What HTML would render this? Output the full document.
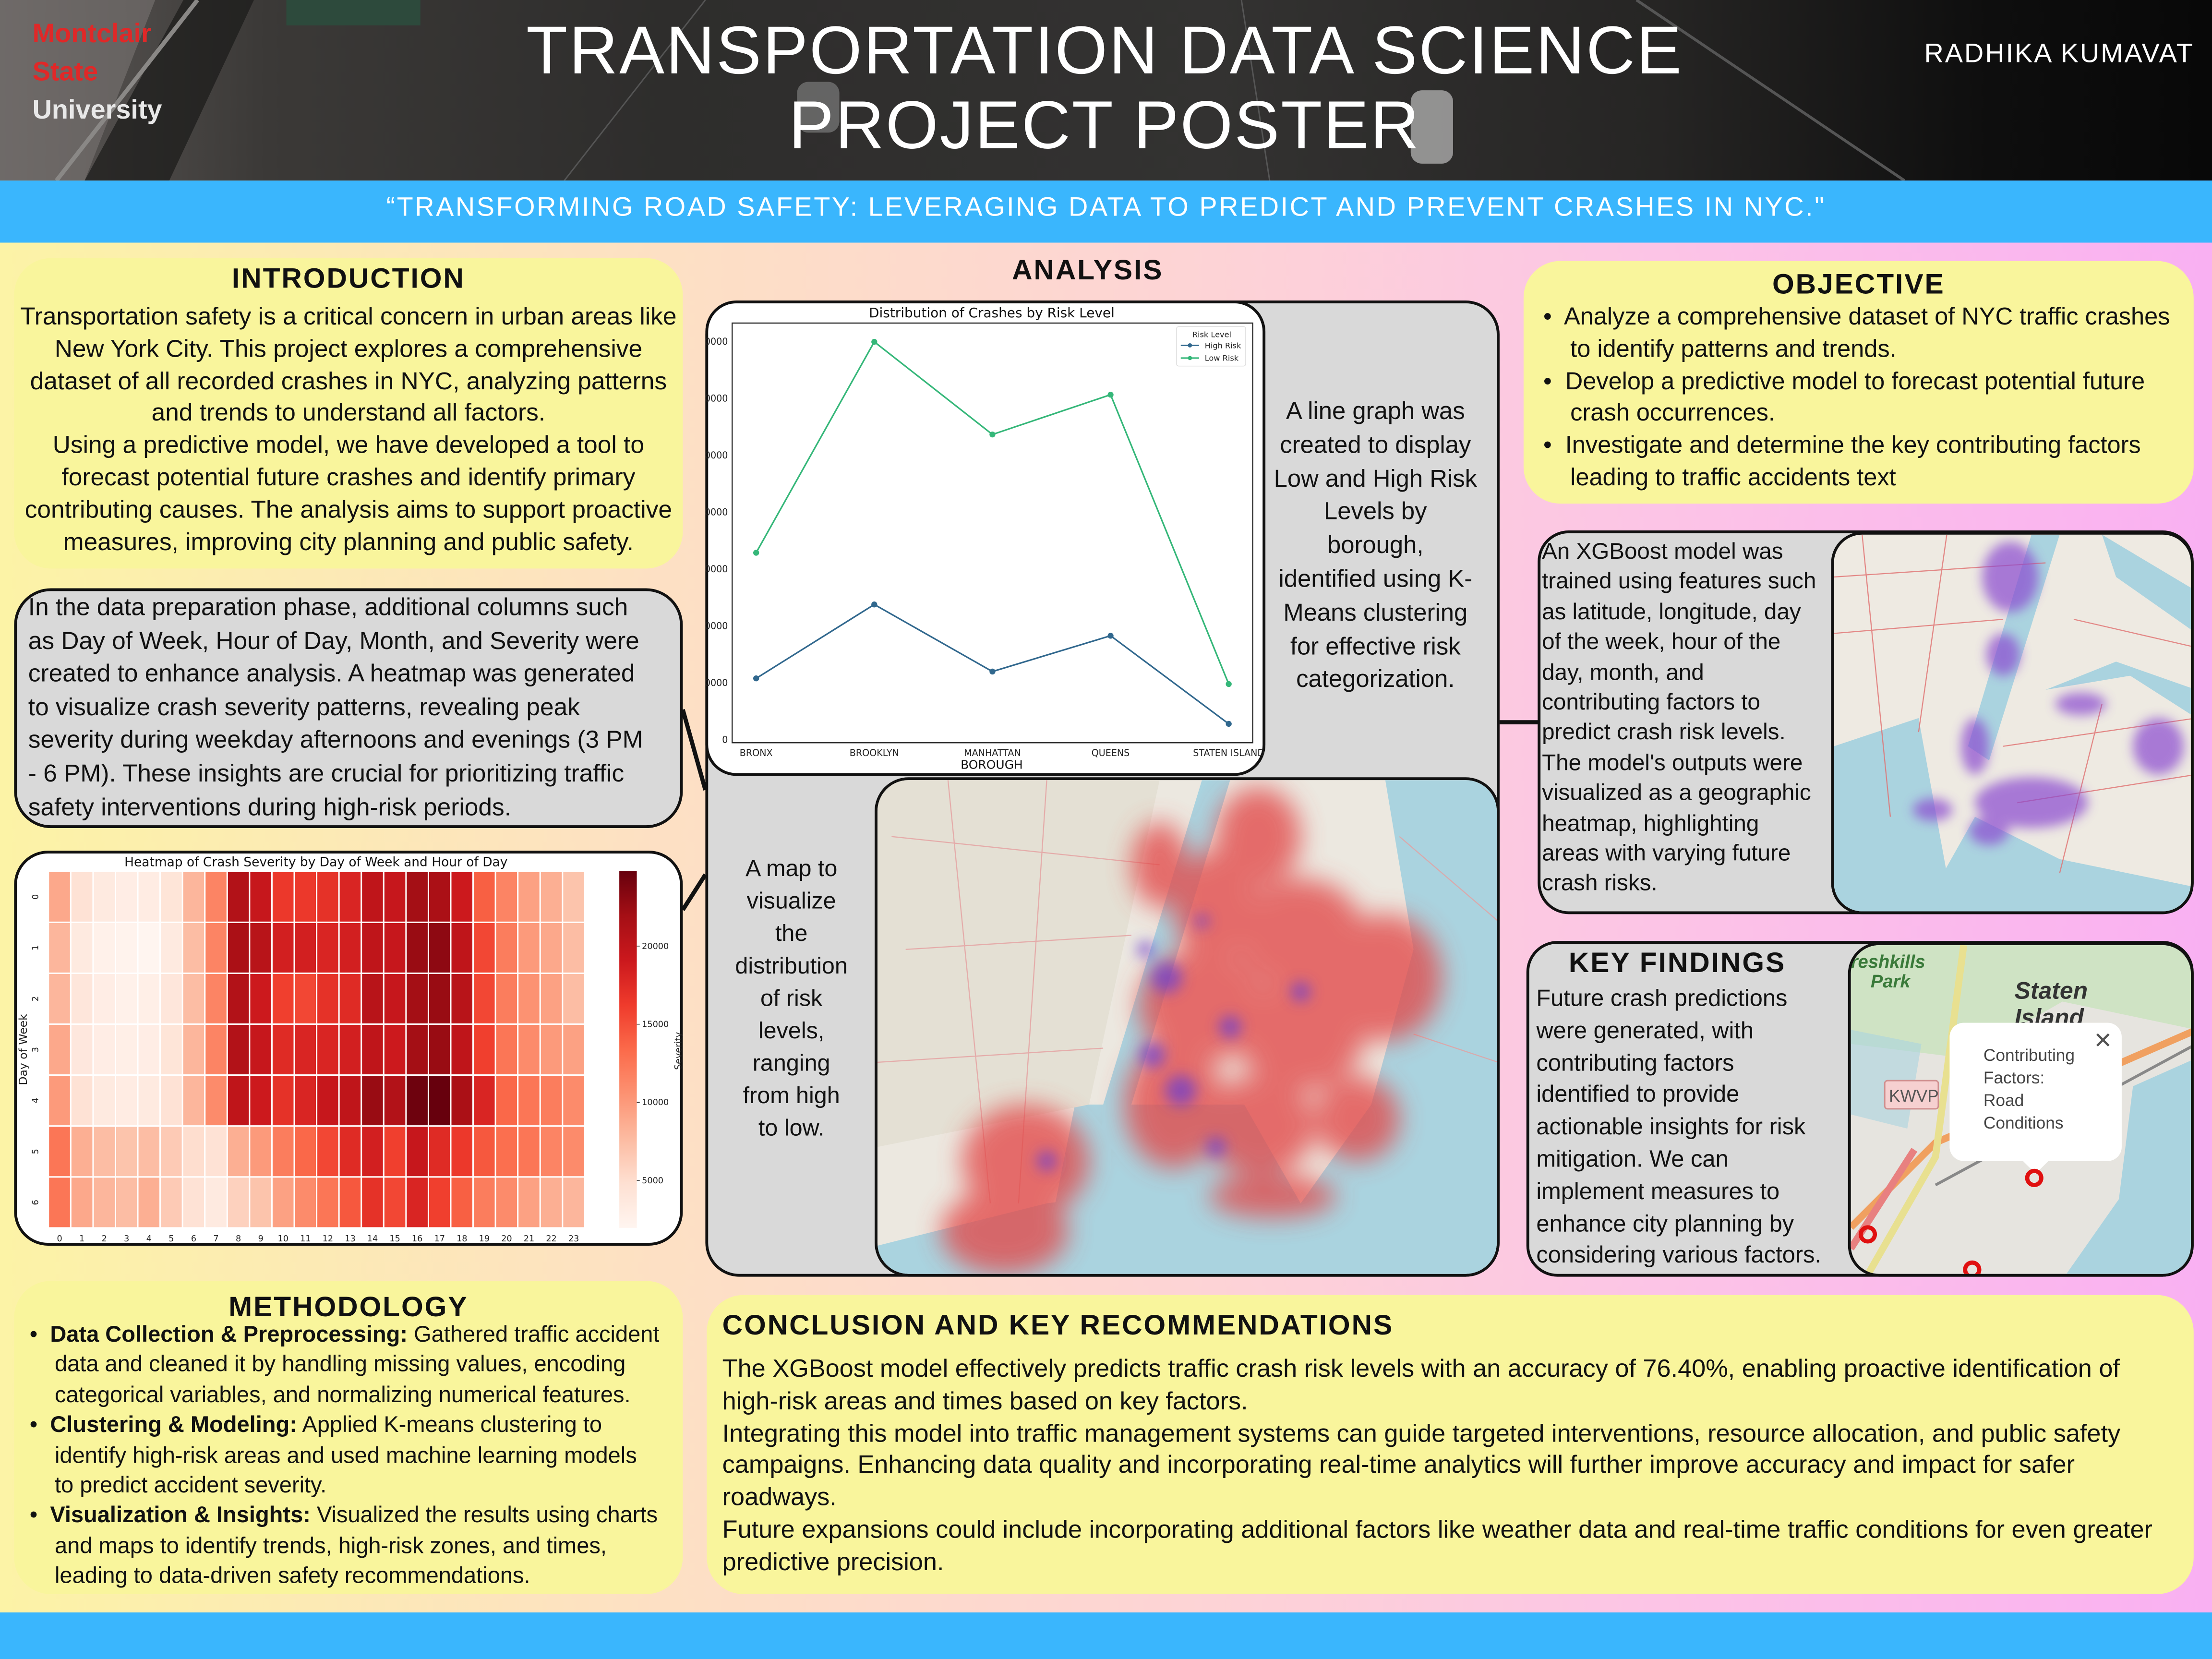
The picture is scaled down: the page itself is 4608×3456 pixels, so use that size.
<!DOCTYPE html>
<html><head><meta charset="utf-8">
<style>
*{margin:0;padding:0;box-sizing:border-box}
html,body{width:4608px;height:3456px;overflow:hidden;background:#fff}
#poster{position:absolute;left:0;top:0;width:1568px;height:1176px;transform:scale(2.938776);transform-origin:0 0;font-family:"Liberation Sans","DejaVu Sans",sans-serif;overflow:hidden;
background:linear-gradient(90deg,#fcf3a6 0%,#fde0c4 30%,#fdd3d6 55%,#fcc4e6 75%,#f9b0f2 100%)}
.abs{position:absolute}
.box{position:absolute;border-radius:26px}
.yel{background:#f9f59c}
.gray{background:#d9d9d9;border:2px solid #111}
.t{position:absolute;white-space:nowrap;color:#111}
.h{font-weight:bold;letter-spacing:1px;color:#111;position:absolute;white-space:nowrap}
.c{text-align:center}
</style></head><body>
<div id="poster">

<!-- header -->
<div class="abs" style="left:0;top:0;width:1568px;height:128px;background:linear-gradient(90deg,#5e5a58 0%,#3b3937 12%,#2e2d2c 30%,#333231 55%,#262524 75%,#0e0e0e 90%,#080808 100%)">
 <svg width="1568" height="128" class="abs" style="left:0;top:0">
  <polygon points="0,0 110,0 60,128 0,128" fill="#7a7573" opacity="0.6"/>
  <polygon points="60,128 130,0 180,0 120,128" fill="#1a1a18" opacity="0.7"/>
  <line x1="40" y1="128" x2="140" y2="0" stroke="#8a8886" stroke-width="3"/>
  <line x1="1350" y1="128" x2="1160" y2="0" stroke="#555" stroke-width="2"/>
  <line x1="400" y1="128" x2="500" y2="0" stroke="#555" stroke-width="1"/>
  <line x1="900" y1="128" x2="880" y2="0" stroke="#555" stroke-width="1"/>
  <rect x="1000" y="64" width="30" height="52" rx="8" fill="#bdbdbd" opacity="0.7"/>
  <rect x="565" y="58" width="30" height="36" rx="8" fill="#9a9a9a" opacity="0.5"/>
  <rect x="203" y="0" width="95" height="18" fill="#2d4a3c"/>
 </svg>
 <div class="t" style="left:23px;top:11px;font-size:19px;line-height:27px;font-weight:bold;color:#e02828">Montclair<br>State<br><span style="color:#e8e8e8">University</span></div>
 <div class="t c" style="left:300px;width:966px;top:10px;font-size:48px;line-height:53px;color:#fff;letter-spacing:1px">TRANSPORTATION DATA SCIENCE<br>PROJECT POSTER</div>
 <div class="t" style="left:1364px;top:28px;font-size:19px;color:#fff;letter-spacing:1px">RADHIKA KUMAVAT</div>
</div>
<div class="abs" style="left:0;top:128px;width:1568px;height:44px;background:#3ab6fd">
 <div class="t c" style="left:0;width:1568px;top:9px;font-size:19px;color:#fff;letter-spacing:1.2px">“TRANSFORMING ROAD SAFETY: LEVERAGING DATA TO PREDICT AND PREVENT CRASHES IN NYC."</div>
</div>
<div class="abs" style="left:0;top:1143px;width:1568px;height:33px;background:#3ab6fd"></div>

<!-- introduction -->
<div class="box yel" style="left:10px;top:183px;width:474px;height:220px"></div>
<div class="h" style="left:10px;width:474px;text-align:center;top:187px;font-size:20px">INTRODUCTION</div>
<div class="t c" style="left:10px;width:474px;top:213px;font-size:17.5px;line-height:22.8px">Transportation safety is a critical concern in urban areas like<br>New York City. This project explores a comprehensive<br>dataset of all recorded crashes in NYC, analyzing patterns<br>and trends to understand all factors.<br>Using a predictive model, we have developed a tool to<br>forecast potential future crashes and identify primary<br>contributing causes. The analysis aims to support proactive<br>measures, improving city planning and public safety.</div>

<!-- data prep -->
<div class="box gray" style="left:10px;top:417px;width:474px;height:170px"></div>
<div class="t" style="left:20px;top:419px;font-size:17.5px;line-height:23.6px">In the data preparation phase, additional columns such<br>as Day of Week, Hour of Day, Month, and Severity were<br>created to enhance analysis. A heatmap was generated<br>to visualize crash severity patterns, revealing peak<br>severity during weekday afternoons and evenings (3 PM<br>- 6 PM). These insights are crucial for prioritizing traffic<br>safety interventions during high-risk periods.</div>

<!-- connectors -->
<svg class="abs" width="1568" height="1176" style="left:0;top:0">
 <line x1="484" y1="503" x2="500" y2="560" stroke="#111" stroke-width="3"/>
 <line x1="484" y1="645" x2="500" y2="620" stroke="#111" stroke-width="3"/>
 <line x1="1063" y1="512" x2="1092" y2="512" stroke="#111" stroke-width="3"/>
</svg>

<!-- heatmap -->
<div class="box" style="left:10px;top:603px;width:474px;height:280px;background:#fff;border:2px solid #111;border-radius:24px"></div>
<svg id="heat" class="abs" width="474" height="280" style="left:10px;top:603px"></svg>

<!-- methodology -->
<div class="box yel" style="left:10px;top:908px;width:474px;height:222px"></div>
<div class="h" style="left:10px;width:474px;text-align:center;top:916px;font-size:20px">METHODOLOGY</div>
<div class="t" style="left:21px;top:936px;font-size:16px;line-height:21.4px">•&nbsp; <b>Data Collection &amp; Preprocessing:</b> Gathered traffic accident<br>&nbsp;&nbsp;&nbsp;&nbsp;data and cleaned it by handling missing values, encoding<br>&nbsp;&nbsp;&nbsp;&nbsp;categorical variables, and normalizing numerical features.<br>•&nbsp; <b>Clustering &amp; Modeling:</b> Applied K-means clustering to<br>&nbsp;&nbsp;&nbsp;&nbsp;identify high-risk areas and used machine learning models<br>&nbsp;&nbsp;&nbsp;&nbsp;to predict accident severity.<br>•&nbsp; <b>Visualization &amp; Insights:</b> Visualized the results using charts<br>&nbsp;&nbsp;&nbsp;&nbsp;and maps to identify trends, high-risk zones, and times,<br>&nbsp;&nbsp;&nbsp;&nbsp;leading to data-driven safety recommendations.</div>

<!-- analysis -->
<div class="h" style="left:671px;width:200px;text-align:center;top:181px;font-size:20px">ANALYSIS</div>
<div class="box gray" style="left:500px;top:213px;width:563px;height:692px;border-radius:24px"></div>
<div class="box" style="left:500px;top:213px;width:397px;height:337px;background:#fff;border:2px solid #111;border-radius:22px"></div>
<svg id="line" class="abs" width="397" height="337" style="left:500px;top:213px"></svg>
<div class="t c" style="left:900px;width:150px;top:280px;font-size:17.3px;line-height:23.8px">A line graph was<br>created to display<br>Low and High Risk<br>Levels by<br>borough,<br>identified using K-<br>Means clustering<br>for effective risk<br>categorization.</div>
<div class="t c" style="left:508px;width:106px;top:605px;font-size:16.5px;line-height:23px">A map to<br>visualize<br>the<br>distribution<br>of risk<br>levels,<br>ranging<br>from high<br>to low.</div>

<!-- big map -->
<div class="abs" style="left:620px;top:551px;width:443px;height:354px;border:2px solid #111;border-radius:24px;overflow:hidden;background:#ece8e0">
 <svg width="443" height="354">
  <defs><filter id="bl" x="-30%" y="-30%" width="160%" height="160%"><feGaussianBlur stdDeviation="9"/></filter>
  <filter id="bl2"><feGaussianBlur stdDeviation="5"/></filter></defs>
  <path d="M360,0 L443,0 L443,354 L0,354 L0,330 L120,300 L200,290 L300,300 L350,230 L380,120 Z" fill="#aad3df"/>
  <path d="M230,0 L250,0 L180,230 L160,230 Z" fill="#aad3df"/>
  <path d="M140,230 L260,230 L300,300 L120,330 Z" fill="#aad3df"/>
  <path d="M0,0 L200,0 L150,230 L0,260 Z" fill="#e4e0d4"/>
  <g stroke="#e4a0a0" stroke-width="0.8" fill="none" opacity="0.8">
   <path d="M10,40 L200,60"/><path d="M20,120 L180,110"/><path d="M50,0 L80,300"/><path d="M120,0 L100,300"/><path d="M0,200 L160,190"/><path d="M370,40 L440,100"/><path d="M380,180 L440,200"/>
  </g>
  <g filter="url(#bl)" opacity="0.78" fill="#e24a4a">
   <ellipse cx="270" cy="40" rx="30" ry="35"/>
   <ellipse cx="240" cy="90" rx="30" ry="40"/>
   <ellipse cx="300" cy="110" rx="45" ry="40"/>
   <ellipse cx="360" cy="140" rx="40" ry="45"/>
   <ellipse cx="230" cy="160" rx="45" ry="40"/>
   <ellipse cx="300" cy="180" rx="45" ry="40"/>
   <ellipse cx="210" cy="230" rx="35" ry="45"/>
   <ellipse cx="270" cy="245" rx="40" ry="35"/>
   <ellipse cx="340" cy="240" rx="30" ry="30"/>
   <ellipse cx="280" cy="295" rx="45" ry="15"/>
   <ellipse cx="105" cy="270" rx="45" ry="40"/>
   <ellipse cx="90" cy="320" rx="45" ry="30"/>
   <ellipse cx="200" cy="60" rx="20" ry="30"/>
  </g>
  <g filter="url(#bl2)" opacity="0.7" fill="#6a3cd0">
   <circle cx="205" cy="140" r="11"/><circle cx="195" cy="195" r="9"/><circle cx="215" cy="220" r="11"/><circle cx="250" cy="175" r="8"/><circle cx="240" cy="260" r="7"/><circle cx="300" cy="150" r="7"/><circle cx="190" cy="120" r="6"/><circle cx="120" cy="270" r="7"/><circle cx="230" cy="100" r="5"/>
  </g>
 </svg>
</div>

<!-- objective -->
<div class="box yel" style="left:1080px;top:185px;width:475px;height:172px"></div>
<div class="h" style="left:1080px;width:475px;text-align:center;top:191px;font-size:20px">OBJECTIVE</div>
<div class="t" style="left:1094px;top:213px;font-size:17.2px;line-height:22.8px">•&nbsp; Analyze a comprehensive dataset of NYC traffic crashes<br>&nbsp;&nbsp;&nbsp;&nbsp;to identify patterns and trends.<br>•&nbsp; Develop a predictive model to forecast potential future<br>&nbsp;&nbsp;&nbsp;&nbsp;crash occurrences.<br>•&nbsp; Investigate and determine the key contributing factors<br>&nbsp;&nbsp;&nbsp;&nbsp;leading to traffic accidents text</div>

<!-- xgboost -->
<div class="box gray" style="left:1090px;top:376px;width:465px;height:272px;border-radius:22px"></div>
<div class="t" style="left:1093px;top:381px;font-size:16.2px;line-height:21.4px">An XGBoost model was<br>trained using features such<br>as latitude, longitude, day<br>of the week, hour of the<br>day, month, and<br>contributing factors to<br>predict crash risk levels.<br>The model's outputs were<br>visualized as a geographic<br>heatmap, highlighting<br>areas with varying future<br>crash risks.</div>
<div class="abs" style="left:1298px;top:377px;width:257px;height:271px;border:2px solid #111;border-radius:22px;overflow:hidden;background:#eeeae2">
 <svg width="257" height="271">
  <defs><filter id="bl3"><feGaussianBlur stdDeviation="4"/></filter></defs>
  <path d="M0,150 L60,130 L80,240 L60,271 L0,271 Z" fill="#aad3df"/>
  <path d="M60,271 L100,200 L160,230 L257,250 L257,271 Z" fill="#aad3df"/>
  <path d="M140,0 L160,0 L110,160 L95,150 Z" fill="#aad3df"/>
  <path d="M150,110 L210,100 L257,130 L257,110 L200,90 Z" fill="#aad3df"/>
  <path d="M190,0 L257,40 L257,70 L200,30 Z" fill="#aad3df"/>
  <g stroke="#e07070" stroke-width="0.8" fill="none" opacity="0.8">
   <path d="M0,30 L150,20"/><path d="M0,70 L120,60"/><path d="M20,0 L40,200"/><path d="M80,0 L60,140"/><path d="M120,150 L257,130"/><path d="M130,190 L257,170"/><path d="M170,60 L257,80"/><path d="M190,120 L160,240"/>
  </g>
  <g filter="url(#bl3)" fill="#8a4ad0" opacity="0.7">
   <ellipse cx="125" cy="30" rx="20" ry="25"/><ellipse cx="120" cy="85" rx="12" ry="15"/><ellipse cx="175" cy="120" rx="18" ry="8"/><ellipse cx="100" cy="150" rx="10" ry="20"/><ellipse cx="140" cy="190" rx="40" ry="18"/><ellipse cx="230" cy="150" rx="18" ry="20"/><ellipse cx="70" cy="195" rx="14" ry="8"/><ellipse cx="110" cy="210" rx="14" ry="10"/>
  </g>
 </svg>
</div>

<!-- key findings -->
<div class="box gray" style="left:1082px;top:667px;width:473px;height:238px;border-radius:22px"></div>
<div class="h" style="left:1112px;top:672px;font-size:20px">KEY FINDINGS</div>
<div class="t" style="left:1089px;top:697px;font-size:16.6px;line-height:22.8px">Future crash predictions<br>were generated, with<br>contributing factors<br>identified to provide<br>actionable insights for risk<br>mitigation. We can<br>implement measures to<br>enhance city planning by<br>considering various factors.</div>
<div class="abs" style="left:1310px;top:668px;width:245px;height:237px;border:2px solid #111;border-radius:22px;overflow:hidden;background:#e6e4df">
 <svg width="245" height="237">
  <path d="M0,0 L245,0 L245,60 L150,40 L80,80 L0,70 Z" fill="#cfe3c4"/>
  <path d="M200,100 L245,80 L245,237 L150,237 L190,180 Z" fill="#aad3df"/>
  <path d="M0,60 L50,70 L40,130 L0,120 Z" fill="#aad3df" opacity="0.6"/>
  <path d="M0,200 L60,140 L130,110 L245,60" stroke="#f0a060" stroke-width="5" fill="none"/>
  <path d="M10,237 L60,150 L80,0" stroke="#e8e090" stroke-width="5" fill="none"/>
  <path d="M0,215 L45,145" stroke="#e88080" stroke-width="5" fill="none"/>
  <path d="M60,170 L245,70" stroke="#888" stroke-width="2" fill="none"/>
  <text x="0" y="16" font-size="13" font-style="italic" font-weight="bold" fill="#3a7a3a" font-family="Liberation Sans, sans-serif">reshkills</text>
  <text x="14" y="30" font-size="13" font-style="italic" font-weight="bold" fill="#3a7a3a" font-family="Liberation Sans, sans-serif">Park</text>
  <text x="116" y="38" font-size="17" font-style="italic" font-weight="bold" fill="#333" font-family="Liberation Sans, sans-serif">Staten</text>
  <text x="116" y="57" font-size="17" font-style="italic" font-weight="bold" fill="#333" font-family="Liberation Sans, sans-serif">Island</text>
  <rect x="24" y="96" width="38" height="20" rx="2" fill="#f6d0d0" stroke="#d09090"/>
  <text x="27" y="111" font-size="12" fill="#555" font-family="Liberation Sans, sans-serif">KWVP</text>
  <rect x="70" y="55" width="122" height="98" rx="10" fill="#fff"/>
  <polygon points="122,153 140,153 131,162" fill="#fff"/>
  <text x="94" y="82" font-size="12" fill="#444" font-family="Liberation Sans, sans-serif">Contributing</text>
  <text x="94" y="98" font-size="12" fill="#444" font-family="Liberation Sans, sans-serif">Factors:</text>
  <text x="94" y="114" font-size="12" fill="#444" font-family="Liberation Sans, sans-serif">Road</text>
  <text x="94" y="130" font-size="12" fill="#444" font-family="Liberation Sans, sans-serif">Conditions</text>
  <text x="172" y="73" font-size="16" fill="#555" font-family="Liberation Sans, sans-serif">✕</text>
  <g fill="none" stroke="#e01010" stroke-width="3"><circle cx="130" cy="165" r="5"/><circle cx="12" cy="205" r="5"/><circle cx="86" cy="230" r="5"/></g>
 </svg>
</div>

<!-- conclusion -->
<div class="box yel" style="left:501px;top:918px;width:1054px;height:212px"></div>
<div class="h" style="left:512px;top:929px;font-size:20px">CONCLUSION AND KEY RECOMMENDATIONS</div>
<div class="t" style="left:512px;top:959px;font-size:17.8px;line-height:22.8px">The XGBoost model effectively predicts traffic crash risk levels with an accuracy of 76.40%, enabling proactive identification of<br>high-risk areas and times based on key factors.<br>Integrating this model into traffic management systems can guide targeted interventions, resource allocation, and public safety<br>campaigns. Enhancing data quality and incorporating real-time analytics will further improve accuracy and impact for safer<br>roadways.<br>Future expansions could include incorporating additional factors like weather data and real-time traffic conditions for even greater<br>predictive precision.</div>
</div>

<script>
// ---------- line chart data ----------
const boroughs = ["BRONX","BROOKLYN","MANHATTAN","QUEENS","STATEN ISLAND"];
const highRisk = [10700, 23700, 11900, 18200, 2700];
const lowRisk = [32800, 69900, 53600, 60600, 9700];
const lineYTicks = [0, 10000, 20000, 30000, 40000, 50000, 60000, 70000];
const lineYMax = 73200;

// ---------- heatmap data ----------
const heatDays = [0,1,2,3,4,5,6];
const heatHours = [0,1,2,3,4,5,6,7,8,9,10,11,12,13,14,15,16,17,18,19,20,21,22,23];
const sevRow0 = [9000,4500,3500,3000,3200,4200,8000,11500,21000,19500,16500,16500,17000,18000,20000,19500,22000,21500,19000,14000,11500,9500,8500,7000];
const sevRow1 = [8000,3500,2500,2200,2000,3500,7500,11500,21500,20500,18500,18500,18000,18500,20000,19500,22500,23000,20000,15500,12000,10000,9000,7500];
const sevRow2 = [8000,4000,3000,2500,2800,4000,7500,11500,21000,19000,16000,15500,17000,17500,20500,19500,22000,22500,20500,15500,12000,10500,9500,7500];
const sevRow3 = [9000,3800,3000,2800,3000,4200,8000,11500,21000,19500,17500,18000,18000,18500,20000,19000,22000,22500,20000,16000,12500,11000,10000,9500];
const sevRow4 = [10000,4500,3500,3200,3500,4500,8000,11000,20000,19000,17000,18000,19500,20000,22500,21000,24500,24800,21500,18000,13500,12500,12000,11000];
const sevRow5 = [12500,8500,7500,7000,7500,6500,5000,4500,8500,10000,12000,13500,15500,17500,18500,16000,19500,17500,16500,14500,13000,12500,11500,11000];
const sevRow6 = [12500,9000,8000,7500,8500,6500,4500,3500,6000,7000,9500,11000,12500,14500,17000,15500,18000,16000,14000,12000,11000,9500,8500,8000];
const severity = [sevRow0,sevRow1,sevRow2,sevRow3,sevRow4,sevRow5,sevRow6];
const cbTicks = [5000, 10000, 15000, 20000];
const sevMin = 1960, sevMax = 24800;

const NS = "http://www.w3.org/2000/svg";
function mk(parent, tag, attrs, text){
  const e = document.createElementNS(NS, tag);
  for (const k in attrs) e.setAttribute(k, attrs[k]);
  if (text !== undefined) e.textContent = text;
  parent.appendChild(e);
  return e;
}

// ---- line chart ----
(function(){
  const svg = document.getElementById('line');
  const L=19, R=388, T=16, B=313.5;
  const x = i => 36 + i*(371-36)/(boroughs.length-1);
  const y = v => B - 2.5 - (v/lineYMax)*(B-2.5-T);
  let t = mk(svg,'text',{x:203,y:12,'font-size':9.5,'text-anchor':'middle',fill:'#111','font-family':'DejaVu Sans, sans-serif'},'Distribution of Crashes by Risk Level');
  
  
  let ax = mk(svg,'rect',{x:L,y:T,width:R-L,height:B-T,fill:'none',stroke:'#222','stroke-width':0.8});
  
  
  lineYTicks.forEach(v=>{
    const tk = mk(svg,'text',{x:16,y:y(v)+2.5,'font-size':6.5,'text-anchor':'end',fill:'#222','font-family':'DejaVu Sans, sans-serif'},String(v));
    
    
  });
  boroughs.forEach((b,i)=>{
    const tk = mk(svg,'text',{x:x(i),y:323,'font-size':6.5,'text-anchor':'middle',fill:'#222','font-family':'DejaVu Sans, sans-serif'},b);
    
    
  });
  t = mk(svg,'text',{x:203,y:332,'font-size':8.5,'text-anchor':'middle',fill:'#111','font-family':'DejaVu Sans, sans-serif'},'BOROUGH');
  
  
  [[highRisk,'#31688e','high-risk'],[lowRisk,'#35b779','low-risk']].forEach(([arr,col,nm])=>{
    const pl = mk(svg,'polyline',{points:arr.map((v,i)=>x(i)+','+y(v)).join(' '),fill:'none',stroke:col,'stroke-width':1.1});
    
    
    arr.forEach((v,i)=>{
      const c = mk(svg,'circle',{cx:x(i),cy:y(v),r:2.1,fill:col});
      
      
    });
  });
  const lg = mk(svg,'g',{});
  
  
  mk(lg,'rect',{x:334,y:18.5,width:49,height:28,fill:'#fff',stroke:'#ddd','stroke-width':0.5,rx:1.5});
  mk(lg,'text',{x:359,y:26,'font-size':5.5,'text-anchor':'middle',fill:'#222','font-family':'DejaVu Sans, sans-serif'},'Risk Level');
  [['High Risk','#31688e',33.8],['Low Risk','#35b779',42.8]].forEach(([n,c,yy])=>{
    mk(lg,'line',{x1:337,y1:yy-2,x2:350,y2:yy-2,stroke:c,'stroke-width':1});
    mk(lg,'circle',{cx:343.5,cy:yy-2,r:1.5,fill:c});
    mk(lg,'text',{x:354,y:yy,'font-size':5.5,fill:'#222','font-family':'DejaVu Sans, sans-serif'},n);
  });
})();

// ---- heatmap ----
(function(){
  const svg = document.getElementById('heat');
  const stops = [[255,245,240],[254,224,210],[252,187,161],[252,146,114],[251,106,74],[239,59,44],[203,24,29],[165,15,21],[103,0,13]];
  function cmap(v){
    let f = Math.max(0,Math.min(1,(v-sevMin)/(sevMax-sevMin)))*(stops.length-1);
    const i = Math.min(stops.length-2, Math.floor(f)); f -= i;
    const a=stops[i], b=stops[i+1];
    return 'rgb('+a.map((c,k)=>Math.round(c+(b[k]-c)*f)).join(',')+')';
  }
  const X0=24.3, X1=404.6, Y0=14.7, Y1=267.4;
  const cw=(X1-X0)/heatHours.length, ch=(Y1-Y0)/heatDays.length;
  const cx = h => X0 + h*cw;
  const cy = d => Y0 + d*ch;
  let t = mk(svg,'text',{x:214,y:11,'font-size':9,'text-anchor':'middle',fill:'#111','font-family':'DejaVu Sans, sans-serif'},'Heatmap of Crash Severity by Day of Week and Hour of Day');
  
  
  heatDays.forEach((d,di)=>{
    heatHours.forEach((h,hi)=>{
      const r = mk(svg,'rect',{x:cx(hi),y:cy(di),width:cw,height:ch,fill:cmap(severity[di][hi]),stroke:'#fff','stroke-width':1});
      
      
    });
    const tk = mk(svg,'text',{x:0,y:0,'font-size':6,'text-anchor':'middle',fill:'#222','font-family':'DejaVu Sans, sans-serif',transform:'translate(17,'+(cy(di)+ch/2)+') rotate(-90)'},String(d));
    
    
  });
  heatHours.forEach((h,hi)=>{
    const tk = mk(svg,'text',{x:cx(hi)+cw/2,y:277,'font-size':6,'text-anchor':'middle',fill:'#222','font-family':'DejaVu Sans, sans-serif'},String(h));
    
    
  });
  t = mk(svg,'text',{x:0,y:0,'font-size':8,'text-anchor':'middle',fill:'#222','font-family':'DejaVu Sans, sans-serif',transform:'translate(9,141) rotate(-90)'},'Day of Week');
  
  
  const g = mk(svg,'defs',{});
  const lgd = mk(g,'linearGradient',{id:'cbg',x1:0,y1:1,x2:0,y2:0});
  stops.forEach((s,i)=>mk(lgd,'stop',{offset:(i/(stops.length-1)),'stop-color':'rgb('+s.join(',')+')'}));
  const CB0=14.5, CB1=267.4;
  const cbY = v => CB1 - (v-sevMin)/(sevMax-sevMin)*(CB1-CB0);
  const cb = mk(svg,'rect',{x:429,y:CB0,width:12.4,height:CB1-CB0,fill:'url(#cbg)'});
  
  
  cbTicks.forEach(v=>{
    mk(svg,'line',{x1:441.4,y1:cbY(v),x2:443.5,y2:cbY(v),stroke:'#222','stroke-width':0.5});
    const tk = mk(svg,'text',{x:445,y:cbY(v)+2,'font-size':6,fill:'#222','font-family':'DejaVu Sans, sans-serif'},String(v));
    
    
  });
  t = mk(svg,'text',{x:0,y:0,'font-size':6.5,'text-anchor':'middle',fill:'#222','font-family':'DejaVu Sans, sans-serif',transform:'translate(473,142) rotate(-90)'},'Severity');
  
  
})();
</script>
</body></html>
